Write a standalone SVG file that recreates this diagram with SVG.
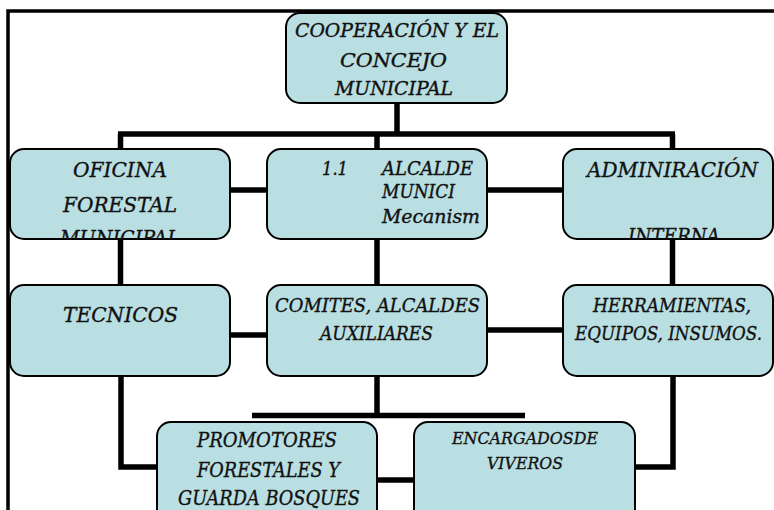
<svg xmlns="http://www.w3.org/2000/svg" width="774" height="510" viewBox="0 0 774 510">
<style>
.node{fill:#badfe3;stroke:#000;stroke-width:2}
.t{font-family:"DejaVu Serif","Liberation Serif",serif;font-style:italic;fill:#111;stroke:#111;stroke-width:0.35}
.c{stroke:#000;stroke-width:5.5;fill:none}
</style>
<defs>
<clipPath id="clipOf"><rect x="10" y="149" width="220" height="90" rx="14"/></clipPath>
<clipPath id="clipAd"><rect x="563" y="149" width="210" height="90" rx="14"/></clipPath>
</defs>
<rect x="0" y="0" width="774" height="510" fill="#fff"/>
<rect x="8" y="11" width="820" height="560" fill="none" stroke="#000" stroke-width="3.5"/>
<g id="connectors">
<line class="c" x1="397" y1="103" x2="397" y2="134"/>
<line class="c" x1="118" y1="134" x2="675" y2="134"/>
<line class="c" x1="120.5" y1="134" x2="120.5" y2="149"/>
<line class="c" x1="377" y1="134" x2="377" y2="149"/>
<line class="c" x1="672.5" y1="134" x2="672.5" y2="149"/>
<line class="c" x1="230" y1="190" x2="267" y2="190"/>
<line class="c" x1="487" y1="190" x2="563" y2="190"/>
<line class="c" x1="120.5" y1="239" x2="120.5" y2="285"/>
<line class="c" x1="377" y1="239" x2="377" y2="285"/>
<line class="c" x1="672.5" y1="239" x2="672.5" y2="285"/>
<line class="c" x1="230" y1="335" x2="267" y2="335"/>
<line class="c" x1="487" y1="330" x2="563" y2="330"/>
<polyline class="c" points="121,376 121,467 157,467"/>
<line class="c" x1="377" y1="376" x2="377" y2="415.5"/>
<line class="c" x1="252" y1="415.5" x2="525" y2="415.5"/>
<line class="c" x1="375" y1="480" x2="414" y2="480"/>
<polyline class="c" points="673,376 673,467 635,467"/>
</g>
<g id="cooperacion">
<rect class="node" x="286" y="13" width="221" height="90" rx="14"/>
<text class="t" font-size="18" x="295" y="37" textLength="204" lengthAdjust="spacingAndGlyphs">COOPERACIÓN  Y EL</text>
<text class="t" font-size="18" x="340" y="67" textLength="107" lengthAdjust="spacingAndGlyphs">CONCEJO</text>
<text class="t" font-size="18" x="335" y="95" textLength="118" lengthAdjust="spacingAndGlyphs">MUNICIPAL</text>
</g>
<g id="oficina">
<rect class="node" x="10" y="149" width="220" height="90" rx="14"/>
<g clip-path="url(#clipOf)">
<text class="t" font-size="21" x="73" y="177" textLength="94" lengthAdjust="spacingAndGlyphs">OFICINA</text>
<text class="t" font-size="21" x="63" y="212" textLength="114" lengthAdjust="spacingAndGlyphs">FORESTAL</text>
<text class="t" font-size="21" x="60" y="245" textLength="120" lengthAdjust="spacingAndGlyphs">MUNICIPAL</text>
</g>
</g>
<g id="alcalde">
<rect class="node" x="267" y="149" width="220" height="90" rx="14"/>
<text class="t" font-size="18" x="322" y="175" textLength="26" lengthAdjust="spacingAndGlyphs">1.1</text>
<text class="t" font-size="18" x="382" y="175" textLength="91" lengthAdjust="spacingAndGlyphs">ALCALDE</text>
<text class="t" font-size="18" x="382" y="198" textLength="73" lengthAdjust="spacingAndGlyphs">MUNICI</text>
<text class="t" font-size="18" x="382" y="223" textLength="98" lengthAdjust="spacingAndGlyphs">Mecanism</text>
</g>
<g id="administracion">
<rect class="node" x="563" y="149" width="210" height="90" rx="14"/>
<g clip-path="url(#clipAd)">
<text class="t" font-size="21" x="587" y="177" textLength="171" lengthAdjust="spacingAndGlyphs">ADMINIRACIÓN</text>
<text class="t" font-size="21" x="628" y="243" textLength="92" lengthAdjust="spacingAndGlyphs">INTERNA</text>
</g>
</g>
<g id="tecnicos">
<rect class="node" x="10" y="285" width="220" height="91" rx="14"/>
<text class="t" font-size="21" x="63" y="322" textLength="115" lengthAdjust="spacingAndGlyphs">TECNICOS</text>
</g>
<g id="comites">
<rect class="node" x="267" y="285" width="220" height="91" rx="14"/>
<text class="t" font-size="19" x="275" y="312" textLength="205" lengthAdjust="spacingAndGlyphs">COMITES, ALCALDES</text>
<text class="t" font-size="19" x="320" y="340" textLength="113" lengthAdjust="spacingAndGlyphs">AUXILIARES</text>
</g>
<g id="herramientas">
<rect class="node" x="563" y="285" width="210" height="91" rx="14"/>
<text class="t" font-size="19" x="593" y="312" textLength="158" lengthAdjust="spacingAndGlyphs">HERRAMIENTAS,</text>
<text class="t" font-size="18" x="575" y="340" textLength="187" lengthAdjust="spacingAndGlyphs">EQUIPOS, INSUMOS.</text>
</g>
<g id="promotores">
<rect class="node" x="157" y="422" width="220" height="110" rx="14"/>
<text class="t" font-size="20" x="197" y="447" textLength="140" lengthAdjust="spacingAndGlyphs">PROMOTORES</text>
<text class="t" font-size="20" x="197" y="477" textLength="143" lengthAdjust="spacingAndGlyphs">FORESTALES Y</text>
<text class="t" font-size="20" x="178" y="505" textLength="182" lengthAdjust="spacingAndGlyphs">GUARDA BOSQUES</text>
</g>
<g id="encargados">
<rect class="node" x="414" y="422" width="221" height="110" rx="14"/>
<text class="t" font-size="17" x="452" y="444" textLength="146" lengthAdjust="spacingAndGlyphs">ENCARGADOSDE</text>
<text class="t" font-size="17" x="487" y="469" textLength="76" lengthAdjust="spacingAndGlyphs">VIVEROS</text>
</g>
</svg>
